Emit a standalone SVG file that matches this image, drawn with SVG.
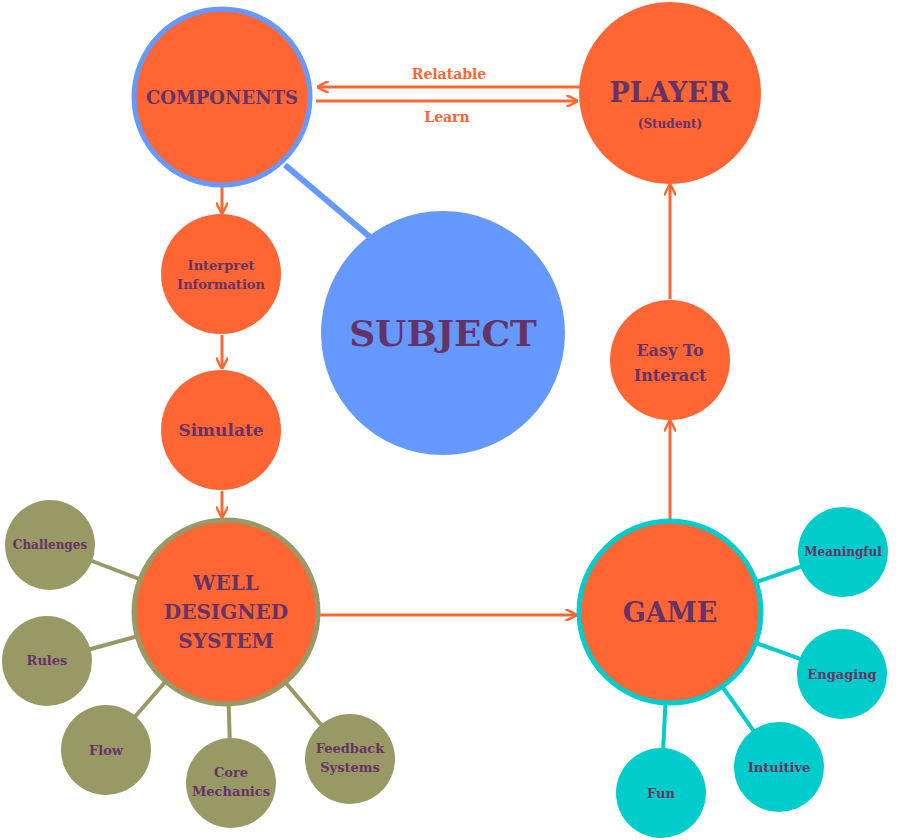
<svg xmlns="http://www.w3.org/2000/svg" width="905" height="840" viewBox="0 0 905 840">
<style>
.o{fill:#ff6633}
.t{fill:#663366;font-family:"DejaVu Serif","Liberation Serif",serif;font-weight:bold;text-anchor:middle}
.ol{fill:#999966}
.cy{fill:#00cccc}
.a{stroke:#ff6633;stroke-width:3;fill:none;marker-end:url(#ah)}
</style>
<defs>
<marker id="ah" viewBox="0 0 10 10" refX="8" refY="5" markerWidth="4" markerHeight="4" orient="auto"><path d="M0,0 L10,5 L0,10" fill="none" stroke="#ff6633" stroke-width="2"/></marker>
</defs>
<rect width="905" height="840" fill="#fff"/>
<g id="spokes" stroke-width="4">
<line x1="285" y1="165" x2="370" y2="237" stroke="#6699ff" stroke-width="6"/>
<g stroke="#999966"><line x1="50" y1="545" x2="226" y2="612"/><line x1="47" y1="661" x2="226" y2="612"/><line x1="106" y1="750" x2="226" y2="612"/><line x1="231" y1="783" x2="226" y2="612"/><line x1="350" y1="759" x2="226" y2="612"/></g>
<g stroke="#00cccc"><line x1="843" y1="552" x2="670" y2="612"/><line x1="842" y1="674" x2="670" y2="612"/><line x1="779" y1="767" x2="670" y2="612"/><line x1="661" y1="793" x2="670" y2="612"/></g>
</g>
<g id="connectors">
<line class="a" x1="222" y1="187" x2="222" y2="212"/>
<line class="a" x1="222" y1="335" x2="222" y2="367"/>
<line class="a" x1="222" y1="491" x2="222" y2="516"/>
<line class="a" x1="318" y1="615" x2="575" y2="615"/>
<line class="a" x1="670" y1="520" x2="670" y2="422"/>
<line class="a" x1="670" y1="299" x2="670" y2="186"/>
<line class="a" x1="580" y1="87" x2="319" y2="87"/>
<line class="a" x1="316" y1="101" x2="576" y2="101"/>
<text class="t" x="449" y="79" font-size="14" fill="#ff6633" style="fill:#ff6633">Relatable</text>
<text class="t" x="447" y="122" font-size="14" style="fill:#ff6633">Learn</text>
</g>
<g id="components"><circle cx="222" cy="97" r="88" class="o" stroke="#6699ff" stroke-width="5"/><text class="t" x="222" y="104" font-size="18">COMPONENTS</text></g>
<g id="player"><circle cx="670" cy="93" r="91" class="o"/><text class="t" x="670" y="102" font-size="27">PLAYER</text><text class="t" x="670" y="128" font-size="12">(Student)</text></g>
<g id="subject"><circle cx="443" cy="333" r="122" fill="#6699ff"/><text class="t" x="443" y="346" font-size="36">SUBJECT</text></g>
<g id="interpret"><circle cx="221" cy="274" r="60" class="o"/><text class="t" x="221" y="270" font-size="13">Interpret</text><text class="t" x="221" y="289" font-size="13">Information</text></g>
<g id="simulate"><circle cx="221" cy="430" r="60" class="o"/><text class="t" x="221" y="436" font-size="17">Simulate</text></g>
<g id="wds"><circle cx="226" cy="612" r="92" class="o" stroke="#999966" stroke-width="5"/><text class="t" x="226" y="590" font-size="20">WELL</text><text class="t" x="226" y="619" font-size="20">DESIGNED</text><text class="t" x="226" y="648" font-size="20">SYSTEM</text></g>
<g id="game"><circle cx="670" cy="612" r="91" class="o" stroke="#00cccc" stroke-width="5"/><text class="t" x="670" y="622" font-size="27">GAME</text></g>
<g id="easy"><circle cx="670" cy="360" r="60" class="o"/><text class="t" x="670" y="356" font-size="16">Easy To</text><text class="t" x="670" y="381" font-size="16">Interact</text></g>
<g id="challenges"><circle cx="50" cy="545" r="45" class="ol"/><text class="t" x="50" y="549" font-size="12">Challenges</text></g>
<g id="rules"><circle cx="47" cy="661" r="45" class="ol"/><text class="t" x="47" y="665" font-size="13">Rules</text></g>
<g id="flow"><circle cx="106" cy="750" r="45" class="ol"/><text class="t" x="106" y="755" font-size="13">Flow</text></g>
<g id="core"><circle cx="231" cy="783" r="45" class="ol"/><text class="t" x="231" y="777" font-size="13">Core</text><text class="t" x="231" y="796" font-size="13">Mechanics</text></g>
<g id="feedback"><circle cx="350" cy="759" r="45" class="ol"/><text class="t" x="350" y="753" font-size="13">Feedback</text><text class="t" x="350" y="772" font-size="13">Systems</text></g>
<g id="meaningful"><circle cx="843" cy="552" r="45" class="cy"/><text class="t" x="843" y="556" font-size="12">Meaningful</text></g>
<g id="engaging"><circle cx="842" cy="674" r="45" class="cy"/><text class="t" x="842" y="679" font-size="13">Engaging</text></g>
<g id="intuitive"><circle cx="779" cy="767" r="45" class="cy"/><text class="t" x="779" y="772" font-size="13">Intuitive</text></g>
<g id="fun"><circle cx="661" cy="793" r="45" class="cy"/><text class="t" x="661" y="798" font-size="13">Fun</text></g>
</svg>
